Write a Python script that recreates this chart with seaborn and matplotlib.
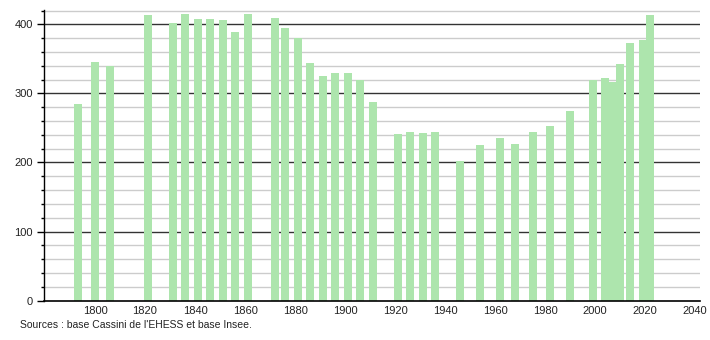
import matplotlib
matplotlib.use("Agg")
import matplotlib.pyplot as plt
from matplotlib.ticker import MultipleLocator
import seaborn as sns
import pandas as pd

years = [1793, 1800, 1806, 1821, 1831, 1836, 1841, 1846, 1851, 1856, 1861,
         1872, 1876, 1881, 1886, 1891, 1896, 1901, 1906, 1911,
         1921, 1926, 1931, 1936, 1946, 1954, 1962, 1968, 1975, 1982, 1990,
         1999, 2004, 2007, 2010, 2014, 2019, 2022]
population = [285, 346, 339, 413, 402, 415, 408, 408, 406, 389, 415,
              409, 395, 380, 344, 325, 329, 329, 319, 287,
              241, 244, 242, 244, 202, 225, 235, 227, 244, 253, 275,
              319, 323, 317, 343, 373, 378, 414]
x_ticks = [1800, 1820, 1840, 1860, 1880, 1900, 1920, 1940, 1960, 1980, 2000, 2020, 2040]
y_ticks = [0, 100, 200, 300, 400]
source_text = "Sources : base Cassini de l'EHESS et base Insee."

df = pd.DataFrame({"year": years, "pop": population})

sns.set_style("white")
plt.rcParams["font.family"] = ["Liberation Sans", "DejaVu Sans"]

fig = plt.figure(figsize=(7.1, 3.4), dpi=100)
ax = fig.add_axes([0.062, 0.116, 0.924, 0.855])

# gridlines
for v in range(20, 421, 20):
    if v % 100 == 0:
        ax.axhline(v, color="#333333", lw=1.0, zorder=1)
    else:
        ax.axhline(v, color="#cccccc", lw=1.0, zorder=0.5)

min_gap = min(b - a for a, b in zip(years[:-1], years[1:]))
bar_years = 3.2
sns.barplot(data=df, x="year", y="pop", native_scale=True, errorbar=None,
            color="#ade5ad", saturation=1, linewidth=0,
            width=bar_years / min_gap, ax=ax, zorder=2)

ax.set_xlim(1779.6, 2042)
ax.set_ylim(0, 421)
ax.set_xticks(x_ticks)
ax.set_xticklabels([str(t) for t in x_ticks])
ax.set_yticks(y_ticks)
ax.yaxis.set_minor_locator(MultipleLocator(20))
ax.set_xlabel("")
ax.set_ylabel("")
ax.tick_params(axis="x", length=0, labelsize=8, pad=4, colors="#222222")
ax.tick_params(axis="y", which="major", length=5, width=1, labelsize=8,
               pad=3, left=True, color="#000000", labelcolor="#222222")
ax.tick_params(axis="y", which="minor", length=2, width=1, left=True, color="#000000")

for s in ["top", "right"]:
    ax.spines[s].set_visible(False)
ax.spines["left"].set_color("#000000")
ax.spines["left"].set_linewidth(1)
ax.spines["bottom"].set_color("#000000")
ax.spines["bottom"].set_linewidth(1.2)
ax.spines["bottom"].set_zorder(3)

fig.text(0.028, 0.035, source_text, fontsize=7.5, color="#222222")

fig.savefig("out.png", dpi=100)
